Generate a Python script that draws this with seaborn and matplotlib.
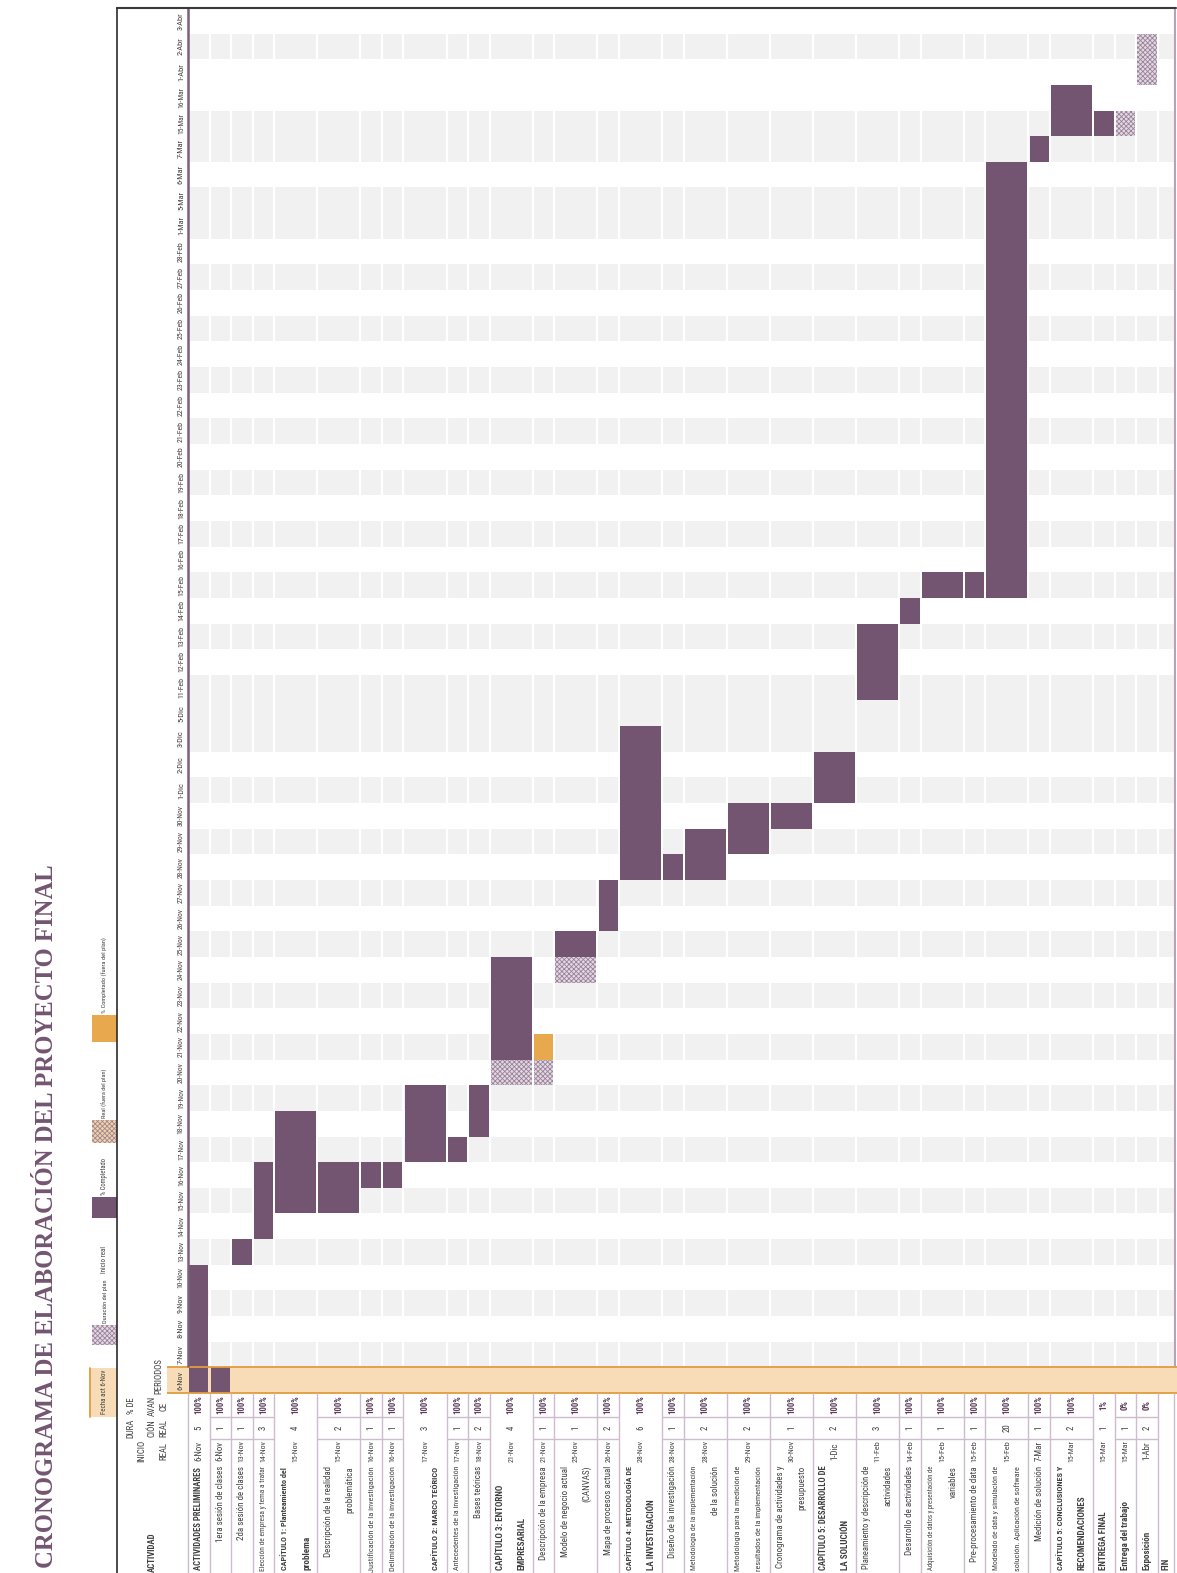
import os
from itertools import groupby

import numpy as np
import pandas as pd
import seaborn as sns
import matplotlib
matplotlib.use('Agg')
import matplotlib.pyplot as plt
from matplotlib import font_manager as fm
from matplotlib.patches import Rectangle
from matplotlib.lines import Line2D

#Datos del cronograma
periodos = ['6-Nov', '7-Nov', '8-Nov', '9-Nov', '10-Nov', '13-Nov', '14-Nov', '15-Nov',
            '16-Nov', '17-Nov', '18-Nov', '19-Nov', '20-Nov', '21-Nov', '22-Nov', '23-Nov',
            '24-Nov', '25-Nov', '26-Nov', '27-Nov', '28-Nov', '29-Nov', '30-Nov', '1-Dic',
            '2-Dic', '3-Dic', '5-Dic', '11-Feb', '12-Feb', '13-Feb', '14-Feb', '15-Feb',
            '16-Feb', '17-Feb', '18-Feb', '19-Feb', '20-Feb', '21-Feb', '22-Feb', '23-Feb',
            '24-Feb', '25-Feb', '26-Feb', '27-Feb', '28-Feb', '1-Mar', '5-Mar', '6-Mar',
            '7-Mar', '15-Mar', '16-Mar', '1-Abr', '2-Abr', '3-Abr']

actividades = ['ACTIVIDADES PRELIMINARES',
               '1era sesión de clases',
               '2da sesión de clases',
               'Elección de empresa y tema a tratar',
               'CAPÍTULO 1: Planteamiento del\nproblema',
               'Descripción de la realidad\nproblemática',
               'Justificación de la investigación',
               'Delimitación de la investigación',
               'CAPÍTULO 2: MARCO TEÓRICO',
               'Antecedentes de la investigación',
               'Bases teóricas',
               'CAPÍTULO 3: ENTORNO\nEMPRESARIAL',
               'Descripción de la empresa',
               'Modelo de negocio actual\n(CANVAS)',
               'Mapa de procesos actual',
               'CAPÍTULO 4: METODOLOGÍA DE\nLA INVESTIGACIÓN',
               'Diseño de la investigación',
               'Metodología de la implementación\nde la solución',
               'Metodología para la medición de\nresultados de la implementación',
               'Cronograma de actividades y\npresupuesto',
               'CAPÍTULO 5: DESARROLLO DE\nLA SOLUCIÓN',
               'Planeamiento y descripción de\nactividades',
               'Desarrollo de actividades',
               'Adquisición de datos y presentación de\nvariables',
               'Pre-procesamiento de data',
               'Modelado de data y simulación de\nsolución. Aplicación de software',
               'Medición de solución',
               'CAPÍTULO 5: CONCLUSIONES Y\nRECOMENDACIONES',
               'ENTREGA FINAL',
               'Entrega del trabajo',
               'Exposición',
               'FIN']

inicio = ['6-Nov', '6-Nov', '13-Nov', '14-Nov', '15-Nov', '15-Nov', '16-Nov', '16-Nov',
          '17-Nov', '17-Nov', '18-Nov', '21-Nov', '21-Nov', '25-Nov', '26-Nov', '28-Nov',
          '28-Nov', '28-Nov', '29-Nov', '30-Nov', '1-Dic', '11-Feb', '14-Feb', '15-Feb',
          '15-Feb', '15-Feb', '7-Mar', '15-Mar', '15-Mar', '15-Mar', '1-Abr', None]
duracion = [5, 1, 1, 3, 4, 2, 1, 1, 3, 1, 2, 4, 1, 1, 2, 6, 1, 2, 2, 1, 2, 3, 1, 1, 1, 20,
            1, 2, 1, 1, 2, None]
avance = [100, 100, 100, 100, 100, 100, 100, 100, 100, 100, 100, 100, 100, 100, 100, 100,
          100, 100, 100, 100, 100, 100, 100, 100, 100, 100, 100, 100, 1, 0, 0, None]

#plan original (columnas ocultas de la hoja)
plan_inicio = ['6-Nov', '6-Nov', '13-Nov', '14-Nov', '15-Nov', '15-Nov', '16-Nov', '16-Nov',
               '17-Nov', '17-Nov', '18-Nov', '20-Nov', '20-Nov', '24-Nov', '26-Nov', '28-Nov',
               '28-Nov', '28-Nov', '29-Nov', '30-Nov', '1-Dic', '11-Feb', '14-Feb', '15-Feb',
               '15-Feb', '15-Feb', '7-Mar', '15-Mar', '15-Mar', '15-Mar', '1-Abr', None]
plan_duracion = [5, 1, 1, 3, 4, 2, 1, 1, 3, 1, 2, 5, 1, 2, 2, 6, 1, 2, 2, 1, 2, 3, 1, 1, 1,
                 20, 1, 2, 1, 1, 2, None]

capitulos = [0, 4, 8, 11, 15, 20, 27, 28, 29, 30, 31]
sin_bordes = [0, 4, 8, 11, 15, 28, 31]

#ancho de cada columna en lineas de texto
ancho = np.array([1, 1, 1, 1, 2, 2, 1, 1, 2, 1, 1, 2, 1, 2, 1, 2, 1, 2, 2, 2, 2, 2, 1, 2, 1, 2,
                  1, 2, 1, 1, 1, 0.75])
izq = np.concatenate([[0], np.cumsum(ancho)[:-1]])
centro = izq + ancho / 2
total = ancho.sum()

meses = {'Nov': (2022, 11), 'Dic': (2022, 12), 'Feb': (2023, 2), 'Mar': (2023, 3), 'Abr': (2023, 4)}


def fecha(txt):
    d, m = txt.split('-')
    return pd.Timestamp(meses[m][0], meses[m][1], int(d))


morado = '#735572'
naranja = '#e8a94e'
crema = '#f7dcb7'
gris_txt = '#3f3f3f'

sns.set_theme(style='white')
plt.rcParams['hatch.linewidth'] = 0.6

#fuentes estrechas
rutas = {os.path.basename(f.fname): f.fname for f in fm.fontManager.ttflist}
estrechas = [('LiberationSansNarrow-Regular.ttf', 'LiberationSansNarrow-Bold.ttf'),
             ('NotoSans-ExtraCondensed.ttf', 'NotoSans-ExtraCondensedBold.ttf'),
             ('RobotoCondensed-Regular.ttf', 'RobotoCondensed-Bold.ttf'),
             ('NotoSans-Condensed.ttf', 'NotoSans-CondensedBold.ttf'),
             ('DejaVuSansCondensed.ttf', 'DejaVuSansCondensed-Bold.ttf')]
par = next((p for p in estrechas if p[0] in rutas and p[1] in rutas), None)


def fuente(size, bold=False):
    if par:
        return fm.FontProperties(fname=rutas[par[1] if bold else par[0]], size=size)
    return fm.FontProperties(family='DejaVu Sans', weight='bold' if bold else 'normal', size=size)


serifas = ['NotoSerif-ExtraCondensedBold.ttf', 'NotoSerif-CondensedBold.ttf',
           'LiberationSerif-Bold.ttf', 'DejaVuSerifCondensed-Bold.ttf']
ruta_t = next((rutas[s] for s in serifas if s in rutas), None)
if ruta_t:
    fuente_titulo = fm.FontProperties(fname=ruta_t, size=20)
else:
    fuente_titulo = fm.FontProperties(family='DejaVu Serif', weight='bold', size=20)

W, H = 1177, 1573
fig = plt.figure(figsize=(W / 100, H / 100), dpi=100)
ax = fig.add_axes([0, 0, 1, 1])
su, sr = 21.55, 25.65
x0, yb = 188, 1393
ax.set_xlim(-x0 / su, (W - x0) / su)
ax.set_ylim(-0.5 - (H - yb) / sr, -0.5 + yb / sr)
ax.axis('off')
renderer = fig.canvas.get_renderer()


def X(p):
    return (p - x0) / su


def Y(p):
    return -0.5 - (p - yb) / sr


def ajustar(t, largo):
    alto = t.get_window_extent(renderer).height
    if alto > largo:
        t.set_fontsize(t.get_fontsize() * largo / alto)


def texto(x, y, s, **kw):
    return fig.text(x / W, 1 - y / H, s, rotation=90, **kw)


def caja(x1, y1, x2, y2, **kw):
    fig.add_artist(Rectangle((x1 / W, 1 - y2 / H), (x2 - x1) / W, (y2 - y1) / H,
                             transform=fig.transFigure, **kw))


def linea(x1, y1, x2, y2, **kw):
    fig.add_artist(Line2D([x1 / W, x2 / W], [1 - y1 / H, 1 - y2 / H], transform=fig.transFigure, **kw))


#fondo de la grilla: sombreado alterno por dia calendario (dias ocultos en la hoja)
n = len(periodos)
dias = [fecha(p) for p in periodos]
filas = np.arange(n)
impares = [k for k in filas if k > 0 and (dias[k] - dias[0]).days % 2 == 1]
ax.barh(impares, total, left=0, height=1, color='#f1f1f1', linewidth=0, zorder=0)
ax.barh(0, X(W) - X(167), left=X(167), height=1, color=crema, linewidth=0, zorder=0.5)
ax.vlines(izq[1:], 0.5, n - 0.5, color='white', lw=1.6, zorder=1)

#barras del cronograma
for i in range(len(actividades)):
    if inicio[i] is None:
        continue
    s, ps = fecha(inicio[i]), fecha(plan_inicio[i])
    clases = []
    for d in dias:
        en_plan = ps <= d < ps + pd.Timedelta(days=plan_duracion[i])
        hecho = s <= d < s + pd.Timedelta(days=duracion[i] * avance[i] / 100)
        if hecho:
            clases.append('fuera' if not en_plan else 'hecho')
        elif en_plan:
            clases.append('plan')
        else:
            clases.append(None)
    for clase, grupo in groupby(enumerate(clases), key=lambda t: t[1]):
        idx = [g[0] for g in grupo]
        if clase is None:
            continue
        if clase == 'plan':
            kw = dict(facecolor='#e2d8e2', edgecolor='#9a829b', hatch='xxxxxxx', linewidth=0)
        else:
            kw = dict(color=morado if clase == 'hecho' else naranja, linewidth=0)
        ax.bar(centro[i], len(idx), bottom=idx[0] - 0.5, width=ancho[i] - 0.1, zorder=2, **kw)

#bordes
ax.hlines([-0.5, 0.5], X(167), X(W), color='#e39b3b', lw=1.3, zorder=3)
ax.vlines(0, 0.5, n - 0.5, color='#7d5f7d', lw=1.8, zorder=3)
ax.vlines(X(1175), 0.5, n - 0.5, color='#b8a2ba', lw=1.5, zorder=3)
ax.vlines(list(izq) + [total], Y(1573), Y(1393), color='#cdbcd0', lw=1, zorder=3)
for i in range(len(actividades)):
    if i not in sin_bordes:
        ax.hlines([Y(1417), Y(1439)], izq[i], izq[i] + ancho[i], color='#cdbcd0', lw=1, zorder=3)
linea(117, 8, 1176, 8, color='#3a3a3a', lw=1.5)
linea(117, 8, 117, 1573, color='#2b2b2b', lw=1.2)

#etiquetas de periodos
for k, p in enumerate(periodos):
    t = ax.text(X(181), k, p, rotation=90, ha='center', va='center', color=gris_txt,
                fontproperties=fuente(6))
    ajustar(t, 21)

#tabla de actividades
for i, nombre in enumerate(actividades):
    lineas = nombre.split('\n')
    cap = i in capitulos
    for j, ln in enumerate(lineas):
        if ancho[i] < 1:
            xj = centro[i]
        else:
            xj = izq[i] + ancho[i] - len(lineas) + j + 0.5
        if cap:
            t = ax.text(xj, Y(1570), ln, rotation=90, rotation_mode='anchor', ha='left',
                        va='center', color=gris_txt, fontproperties=fuente(6.5, True))
        else:
            t = ax.text(xj, Y(1466), ln, rotation=90, rotation_mode='anchor', ha='right',
                        va='center', color=gris_txt, fontproperties=fuente(6.5))
        ajustar(t, 104)
    if inicio[i] is None:
        continue
    t = ax.text(centro[i], Y(1451), inicio[i], rotation=90, ha='center', va='center',
                color=gris_txt, fontproperties=fuente(6.3))
    ajustar(t, 22)
    ax.text(centro[i], Y(1428), str(duracion[i]), rotation=90, ha='center', va='center',
            color=gris_txt, fontproperties=fuente(6.3))
    t = ax.text(centro[i], Y(1405), f'{avance[i]}%', rotation=90, ha='center', va='center',
                color='#5a3d5a', fontproperties=fuente(6.3, True))
    ajustar(t, 21)

#encabezados
encabezados = [('ACTIVIDAD', 152, 1552, True), ('INICIO', 142, 1451, False), ('REAL', 164, 1451, False),
               ('DURA', 131, 1428, False), ('CIÓN', 152, 1428, False), ('REAL', 164, 1428, False),
               ('% DE', 131, 1406, False), ('AVAN', 152, 1406, False), ('CE', 164, 1406, False),
               ('PERIODOS', 159, 1376, False)]
for s, x, y, b in encabezados:
    texto(x, y, s, ha='center', va='center', color=gris_txt, fontproperties=fuente(6.3, b))

#leyenda
caja(90, 1368, 117, 1417, facecolor=crema, linewidth=0)
linea(90, 1368, 90, 1417, color='#e39b3b', lw=1.3)
t = texto(104, 1392, 'Fecha act 6-Nov', ha='center', va='center', color=gris_txt,
          fontproperties=fuente(6.3))
ajustar(t, 44)
caja(92, 1325, 117, 1345, facecolor='#e2d8e2', edgecolor='#9a829b', hatch='xxxxxxx', linewidth=0)
caja(92, 1197, 117, 1218, facecolor=morado, linewidth=0)
caja(92, 1120, 117, 1143, facecolor='#f2d3a8', edgecolor='#a08592', hatch='xxxxxxx', linewidth=0)
caja(92, 1015, 117, 1042, facecolor=naranja, linewidth=0)
leyenda = [('Duración del plan', 1323, 44), ('Inicio real', 1273, 27), ('% Completado', 1195, 38),
           ('Real (fuera del plan)', 1118, 50), ('% Completado (fuera del plan)', 1013, 76)]
for s, y, largo in leyenda:
    t = texto(105, y, s, rotation_mode='anchor', ha='left', va='center', color=gris_txt,
              fontproperties=fuente(6.8))
    ajustar(t, largo)

#titulo
t = texto(53, 1568, 'CRONOGRAMA DE ELABORACIÓN DEL PROYECTO FINAL', rotation_mode='anchor',
          ha='left', va='baseline', color='#735471', fontproperties=fuente_titulo)
largo = t.get_window_extent(renderer).height
t.set_fontsize(t.get_fontsize() * 700 / largo)

fig.savefig('out.png', dpi=100)
